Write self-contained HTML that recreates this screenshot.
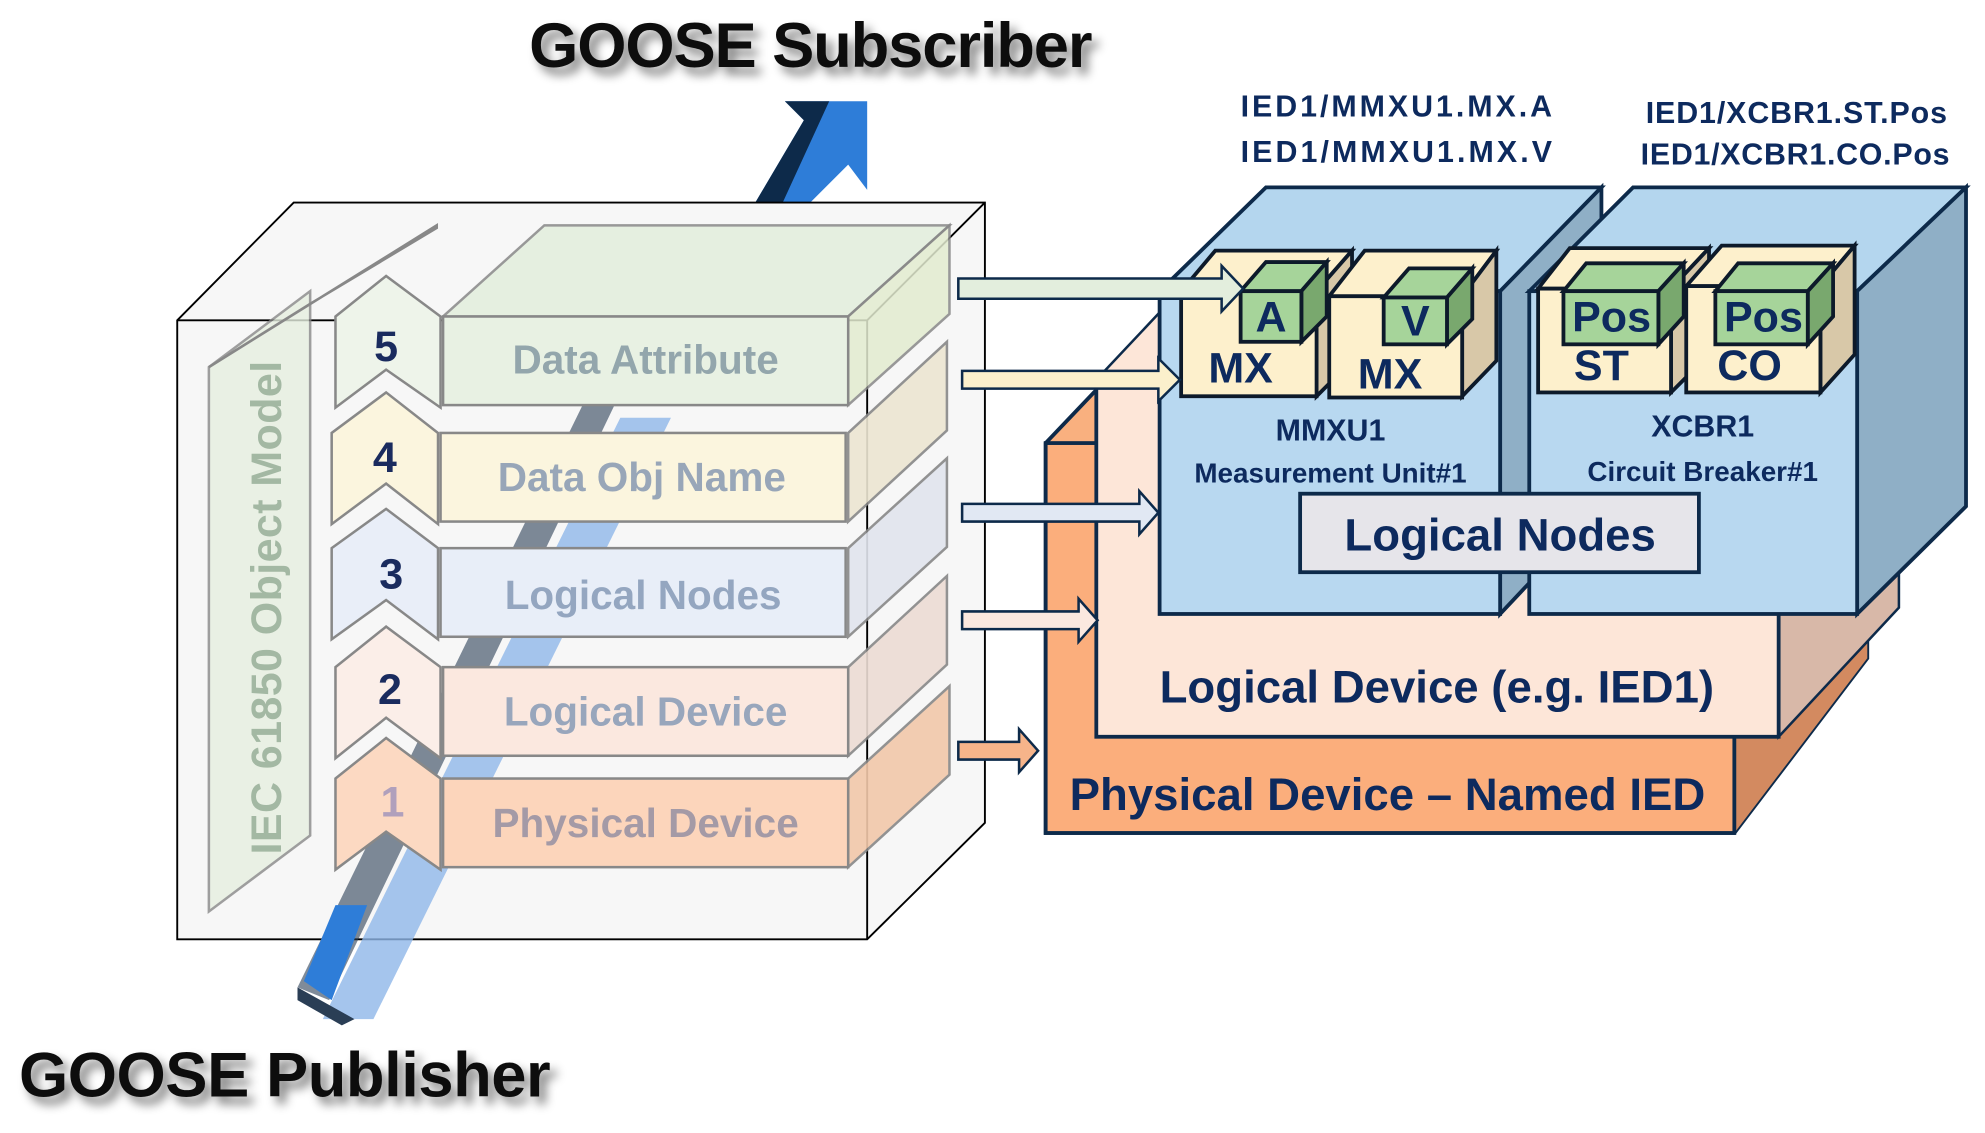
<!DOCTYPE html>
<html><head><meta charset="utf-8"><style>html,body{margin:0;padding:0;background:#fff}svg{display:block}</style></head>
<body>
<svg width="1985" height="1133" viewBox="0 0 1568 895" preserveAspectRatio="none" xmlns="http://www.w3.org/2000/svg" font-family="Liberation Sans, sans-serif">
<defs>
<filter id="sh" x="-10%" y="-30%" width="130%" height="170%"><feGaussianBlur in="SourceAlpha" stdDeviation="4"/><feOffset dx="5" dy="6"/><feComponentTransfer><feFuncA type="linear" slope="0.5"/></feComponentTransfer><feMerge><feMergeNode/><feMergeNode in="SourceGraphic"/></feMerge></filter>
</defs>
<text x="418" y="53" font-size="50" font-weight="bold" fill="#111" filter="url(#sh)" textLength="445">GOOSE Subscriber</text>
<text x="15" y="866" font-size="50" font-weight="bold" fill="#111" filter="url(#sh)" textLength="420">GOOSE Publisher</text>

<polygon points="586,178 635,95 620,80 660,80 685,80 685,150 670,130 622,178" fill="#2e7dd8"/>
<polygon points="586,178 635,95 620,80 655,80 610,178" fill="#0d2a4a"/>

<polygon points="140,253 232,160 778,160 778,650 685,742 140,742" fill="#f7f7f7" stroke="#000" stroke-width="1.5"/>
<polyline points="140,253 685,253 778,160" fill="none" stroke="#000" stroke-width="1.5"/>
<line x1="685" y1="253" x2="685" y2="742" stroke="#000" stroke-width="1.5"/>
<polygon points="165,290 245,230 245,660 165,720" fill="#e6efe0" stroke="#888" stroke-width="2" opacity="0.8"/>
<polygon points="165,290 345,178 345,180 245,240" fill="none" stroke="#888" stroke-width="2"/>
<text transform="translate(222,675) rotate(-90)" font-size="34" font-weight="bold" fill="#a3b8a3" textLength="390">IEC 61850 Object Model</text>

<polygon points="255,805 490,330 530,330 295,805" fill="#8fb7e8" opacity="0.8"/>
<polygon points="235,780 470,300 495,300 260,790" fill="#2a3e55" opacity="0.6"/>
<polygon points="235,780 280,805 270,810 235,790" fill="#2a3e55"/>
<polygon points="240,775 262,790 290,715 265,715" fill="#2e7dd8"/>

<g stroke="#888" stroke-width="2">
<polygon points="350,250 430,178 750,178 670,250" fill="#e3eedd" opacity="0.85"/>
<polygon points="670,250 750,178 750,248 670,320" fill="#e3ecd0" opacity="0.85"/>
<rect x="350" y="250" width="320" height="70" fill="#e8f1e3"/>
<polygon points="265,250 305,218 348,250 348,322 305,292 265,322" fill="#eef4ea"/>
<polygon points="670,342 748,270 748,340 670,412" fill="#ece6d2" opacity="0.9"/>
<rect x="348" y="342" width="320" height="70" fill="#fbf5de"/>
<polygon points="262,342 305,310 346,342 346,414 305,382 262,414" fill="#fbf5de"/>
<polygon points="670,433 748,362 748,432 670,503" fill="#e1e5ee" opacity="0.9"/>
<rect x="348" y="433" width="320" height="70" fill="#e8eef8"/>
<polygon points="262,433 305,402 346,433 346,505 305,474 262,505" fill="#e9eef8"/>
<polygon points="670,527 748,455 748,525 670,597" fill="#ecdcd4" opacity="0.9"/>
<rect x="350" y="527" width="320" height="70" fill="#fbe8df"/>
<polygon points="265,527 305,495 348,527 348,599 305,567 265,599" fill="#fbeee8"/>
<polygon points="670,615 750,542 750,612 670,685" fill="#f2c8aa" opacity="0.9"/>
<rect x="350" y="615" width="320" height="70" fill="#fcd5bb"/>
<polygon points="265,615 305,583 348,615 348,687 305,657 265,687" fill="#fcd9c2"/>
</g>
<g font-weight="bold" font-size="32" text-anchor="middle">
<text x="510" y="295" fill="#93a6ac">Data Attribute</text>
<text x="507" y="388" fill="#98a6b8">Data Obj Name</text>
<text x="508" y="481" fill="#94a6c0">Logical Nodes</text>
<text x="510" y="573" fill="#98a6bc">Logical Device</text>
<text x="510" y="661" fill="#a49aa6">Physical Device</text>
<g font-size="34" fill="#1a2b5e"><text x="305" y="285">5</text><text x="304" y="373">4</text><text x="309" y="465">3</text><text x="308" y="556">2</text></g>
<text x="310" y="645" font-size="34" fill="#b0a0bc">1</text>
</g>

<polygon points="826,350 866,308 1475,308 1475,520 1370,658 826,658" fill="#f9b07f" stroke="#0d2a4a" stroke-width="3"/>
<polygon points="1370,560 1475,450 1475,520 1370,658" fill="#d38a60"/>
<rect x="826" y="350" width="544" height="308" fill="#fbae7c" stroke="#0d2a4a" stroke-width="3"/>
<text x="1096" y="640" font-size="36" font-weight="bold" fill="#0d2a5e" text-anchor="middle">Physical Device – Named IED</text>
<polygon points="1405,582 1500,480 1500,180 1405,280" fill="#d8b8a8" stroke="#0d2a4a" stroke-width="2"/>
<rect x="866" y="300" width="539" height="282" fill="#fde6d8" stroke="#0d2a4a" stroke-width="3"/>
<polygon points="866,300 960,200 1500,200 1405,300" fill="#fde6d8" stroke="#0d2a4a" stroke-width="2"/>
<text x="1135" y="555" font-size="36" font-weight="bold" fill="#0d2a5e" text-anchor="middle">Logical Device (e.g. IED1)</text>
<polygon points="916,230 1000,148 1265,148 1185,230" fill="#b4d6ee" stroke="#0d2a4a" stroke-width="3"/>
<polygon points="1185,230 1265,148 1265,400 1185,485" fill="#8fafc6" stroke="#0d2a4a" stroke-width="3"/>
<rect x="916" y="230" width="269" height="255" fill="#b8d8f0" stroke="#0d2a4a" stroke-width="3"/>
<polygon points="1208,230 1290,148 1553,148 1467,230" fill="#b4d6ee" stroke="#0d2a4a" stroke-width="3"/>
<polygon points="1467,230 1553,148 1553,400 1467,485" fill="#8fafc6" stroke="#0d2a4a" stroke-width="3"/>
<rect x="1208" y="230" width="259" height="255" fill="#b8d8f0" stroke="#0d2a4a" stroke-width="3"/>
<g font-weight="bold" fill="#0d2a5e" text-anchor="middle">
<text x="1051" y="348" font-size="24">MMXU1</text>
<text x="1051" y="381" font-size="22">Measurement Unit#1</text>
<text x="1345" y="345" font-size="24">XCBR1</text>
<text x="1345" y="380" font-size="22">Circuit Breaker#1</text>
</g>
<rect x="1027" y="390" width="315" height="62" fill="#e6e5ea" stroke="#0d2a4a" stroke-width="3"/>
<text x="1185" y="435" font-size="36" font-weight="bold" fill="#0d2a5e" text-anchor="middle">Logical Nodes</text>
<g stroke="#0d1a2a" stroke-width="3">
<g>
<polygon points="933,230 960,198 1068,198 1040,230" fill="#fdf0cc"/><polygon points="1040,230 1068,198 1068,285 1040,313" fill="#d8c8a8"/><rect x="933" y="230" width="107" height="83" fill="#fdf0cc"/>
<polygon points="1050,234 1078,198 1182,198 1155,234" fill="#fdf0cc"/><polygon points="1155,234 1182,198 1182,285 1155,313" fill="#d8c8a8"/><rect x="1050" y="234" width="105" height="80" fill="#fdf0cc"/>
<polygon points="1215,228 1240,196 1350,196 1320,228" fill="#fdf0cc"/><polygon points="1320,228 1350,196 1350,280 1320,310" fill="#d8c8a8"/><rect x="1215" y="228" width="105" height="82" fill="#fdf0cc"/>
<polygon points="1332,226 1360,194 1465,194 1438,226" fill="#fdf0cc"/><polygon points="1438,226 1465,194 1465,280 1438,310" fill="#d8c8a8"/><rect x="1332" y="226" width="106" height="84" fill="#fdf0cc"/>
</g>
<g>
<polygon points="980,230 1000,207 1048,207 1028,230" fill="#a6d49a"/><polygon points="1028,230 1048,207 1048,250 1028,270" fill="#79a86e"/><rect x="980" y="230" width="48" height="40" fill="#a6d49a"/>
<polygon points="1093,235 1113,212 1163,212 1143,235" fill="#a6d49a"/><polygon points="1143,235 1163,212 1163,252 1143,272" fill="#79a86e"/><rect x="1093" y="235" width="50" height="37" fill="#a6d49a"/>
<polygon points="1235,230 1253,208 1330,208 1310,230" fill="#a6d49a"/><polygon points="1310,230 1330,208 1330,250 1310,272" fill="#79a86e"/><rect x="1235" y="230" width="75" height="42" fill="#a6d49a"/>
<polygon points="1355,230 1373,208 1448,208 1428,230" fill="#a6d49a"/><polygon points="1428,230 1448,208 1448,250 1428,272" fill="#79a86e"/><rect x="1355" y="230" width="73" height="42" fill="#a6d49a"/>
</g>
</g>
<g font-weight="bold" fill="#0d2a5e" text-anchor="middle" font-size="34">
<text x="1004" y="262">A</text><text x="1118" y="265">V</text>
<text x="1273" y="262">Pos</text><text x="1393" y="262">Pos</text>
<text x="980" y="302">MX</text><text x="1098" y="307">MX</text>
<text x="1265" y="300">ST</text><text x="1382" y="300">CO</text>
</g>
<g stroke="#0d2a4a" stroke-width="2">
<polygon points="757,220 965,220 965,210 982,228 965,246 965,236 757,236" fill="#e3eedd"/>
<polygon points="760,293 915,293 915,283 932,300 915,317 915,307 760,307" fill="#fbf0cc"/>
<polygon points="760,398 900,398 900,388 915,405 900,422 900,412 760,412" fill="#e1e8f3"/>
<polygon points="760,483 852,483 852,473 867,490 852,507 852,497 760,497" fill="#fbe8df"/>
<polygon points="757,586 805,586 805,576 820,593 805,610 805,600 757,600" fill="#f6b48a"/>
</g>
<g font-weight="bold" fill="#0d2a5e" font-size="24">
<text x="980" y="92" textLength="246">IED1/MMXU1.MX.A</text>
<text x="980" y="128" textLength="246">IED1/MMXU1.MX.V</text>
<text x="1300" y="97" textLength="238">IED1/XCBR1.ST.Pos</text>
<text x="1296" y="130" textLength="244">IED1/XCBR1.CO.Pos</text>
</g>
</svg>
</body></html>
